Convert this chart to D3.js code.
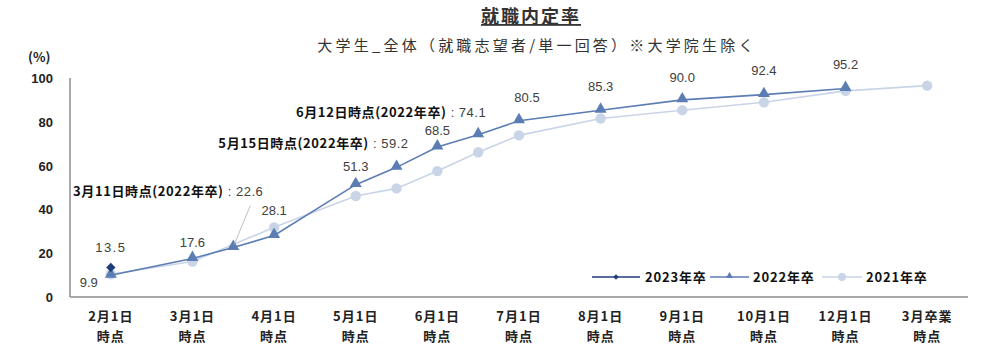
<!DOCTYPE html>
<html><head><meta charset="utf-8">
<script src="https://cdn.jsdelivr.net/npm/d3@7"></script>
<style>
body{margin:0;background:#fff;}
svg{display:block;font-family:"Noto Sans CJK JP","Noto Sans",sans-serif;}
</style></head>
<body><svg id="c" width="1000" height="346"></svg>
<script>
const categories = ["2月1日","3月1日","4月1日","5月1日","6月1日","7月1日","8月1日","9月1日","10月1日","12月1日","3月卒業"];
const categorySub = "時点";
const yTicks = [0,20,40,60,80,100];

const pos2023 = [0];
const values2023 = [13.5];

const pos2022 = [0,1,1.5,2,3,3.5,4,4.5,5,6,7,8,9];
const values2022 = [9.9,17.6,22.6,28.1,51.3,59.2,68.5,74.1,80.5,85.3,90.0,92.4,95.2];

const pos2021 = [0,1,2,3,3.5,4,4.5,5,6,7,8,9,10];
const values2021 = [10.4,16.2,31.8,46.1,49.6,57.5,66.1,73.8,81.5,85.3,88.9,94.1,96.5];

const seriesNames = ["2023年卒","2022年卒","2021年卒"];
const annotations = [
  {pos:1.5, value:22.6, label:"3月11日時点(2022年卒)"},
  {pos:3.5, value:59.2, label:"5月15日時点(2022年卒)"},
  {pos:4.5, value:74.1, label:"6月12日時点(2022年卒)"}
];

const svg = d3.select("#c");
const x = d3.scaleLinear().domain([-0.5,10.5]).range([70,968]);
const y = d3.scaleLinear().domain([0,100]).range([297,78]);

const C23="#1f3d7c", C22="#5b7db3", C21="#c9d5e7";

// title
svg.append("text").attr("x",531).attr("y",23).attr("text-anchor","middle")
  .attr("font-size",18).attr("font-weight","bold").attr("fill","#333").attr("letter-spacing",2)
  .attr("text-decoration","underline").text("就職内定率");
svg.append("text").attr("x",537).attr("y",51).attr("text-anchor","middle")
  .attr("font-size",15).attr("fill","#333").attr("letter-spacing",3.2)
  .text("大学生_全体（就職志望者/単一回答）※大学院生除く");
svg.append("text").attr("x",28).attr("y",62).attr("font-size",13).attr("fill","#222").attr("font-weight","bold").text("(%)");

// axes
svg.append("line").attr("x1",x.range()[0]).attr("x2",x.range()[0]).attr("y1",y(100)).attr("y2",y(0)).attr("stroke","#8c8c8c").attr("stroke-width",1.5);
svg.append("line").attr("x1",x.range()[0]).attr("x2",x.range()[1]).attr("y1",y(0)).attr("y2",y(0)).attr("stroke","#8c8c8c").attr("stroke-width",1.5);
svg.append("g").selectAll("text").data(yTicks).join("text")
  .attr("x",53).attr("y",d=>y(d)+5).attr("text-anchor","end")
  .attr("font-size",13).attr("font-weight","bold").attr("fill","#222")
  .attr("font-family","Liberation Sans, Arial, sans-serif").text(d=>d);
const xl = svg.append("g").selectAll("text").data(categories).join("text")
  .attr("text-anchor","middle").attr("font-size",13).attr("font-weight","bold").attr("fill","#222");
xl.append("tspan").attr("x",(d,i)=>x(i)).attr("y",321).attr("letter-spacing",1).text(d=>d);
xl.append("tspan").attr("x",(d,i)=>x(i)).attr("y",341).attr("letter-spacing",1).text(categorySub);

const line = d3.line().x(d=>x(d[0])).y(d=>y(d[1]));
const d21 = pos2021.map((p,i)=>[p,values2021[i]]);
const d22 = pos2022.map((p,i)=>[p,values2022[i]]);
const d23 = pos2023.map((p,i)=>[p,values2023[i]]);

svg.append("path").attr("d",line(d21)).attr("fill","none").attr("stroke",C21).attr("stroke-width",1.6);
svg.append("g").selectAll("circle").data(d21).join("circle")
  .attr("cx",d=>x(d[0])).attr("cy",d=>y(d[1])).attr("r",5.2).attr("fill",C21);

svg.append("path").attr("d",line(d22)).attr("fill","none").attr("stroke",C22).attr("stroke-width",1.6);
const tri = d3.symbol().type(d3.symbolTriangle).size(62);
svg.append("g").selectAll("path").data(d22).join("path")
  .attr("transform",d=>`translate(${x(d[0])},${y(d[1])-1})`).attr("d",tri).attr("fill",C22);

const dia = d3.symbol().type(d3.symbolSquare).size(44);
svg.append("g").selectAll("path").data(d23).join("path")
  .attr("transform",d=>`translate(${x(d[0])},${y(d[1])}) rotate(45)`).attr("d",dia).attr("fill",C23);

// value labels
const lblFont = "Liberation Sans, Arial, sans-serif";
svg.append("text").attr("x",x(0)).attr("y",y(values2023[0])-15).attr("text-anchor","middle")
  .attr("font-size",13).attr("fill","#404040").attr("font-family",lblFont).attr("letter-spacing",1.5).text(values2023[0].toFixed(1));
const labelIdx = [0,1,3,4,6,8,9,10,11,12];
const labelDy = {0:0,1:-11,3:-20,4:-14,6:-12,8:-19,9:-19,10:-18,11:-20,12:-20};
svg.append("g").selectAll("text").data(labelIdx).join("text")
  .attr("x",i=> i===0 ? x(pos2022[i])-22 : x(pos2022[i]) + (i===8?8:0))
  .attr("y",i=> i===0 ? y(values2022[i])+12 : y(values2022[i])+labelDy[i])
  .attr("text-anchor","middle").attr("font-size",13).attr("fill","#404040").attr("font-family",lblFont)
  .text(i=>values2022[i].toFixed(1));

// annotations
const annOff = [{dx:30,dy:-52},{dx:12,dy:-19},{dx:8,dy:-18}];
annotations.forEach((a,k)=>{
  const t = svg.append("text").attr("x",x(a.pos)+annOff[k].dx).attr("y",y(a.value)+annOff[k].dy)
    .attr("text-anchor","end").attr("font-size",13);
  t.append("tspan").attr("font-weight","bold").attr("fill","#111").attr("letter-spacing",0.6).text(a.label);
  t.append("tspan").attr("fill","#404040").attr("font-family",lblFont).attr("letter-spacing",0.5).text(" : "+a.value.toFixed(1));
});
svg.append("line").attr("x1",x(1.5)+1).attr("y1",y(22.6)-3).attr("x2",x(1.5)+17).attr("y2",y(22.6)-42)
  .attr("stroke","#b0b0b0").attr("stroke-width",0.8);

// legend
const ly = 277;
const lg = svg.append("g");
const items = [
  {x1:592,x2:640,tx:645,color:C23,sym:"dia"},
  {x1:710,x2:749,tx:753,color:C22,sym:"tri"},
  {x1:822,x2:862,tx:866,color:C21,sym:"cir"}
];
items.forEach((it,i)=>{
  lg.append("line").attr("x1",it.x1).attr("x2",it.x2).attr("y1",ly).attr("y2",ly).attr("stroke",it.color).attr("stroke-width",1.4);
  const cx=(it.x1+it.x2)/2;
  if(it.sym==="dia") lg.append("path").attr("transform",`translate(${cx},${ly}) rotate(45)`).attr("d",d3.symbol().type(d3.symbolSquare).size(14)).attr("fill",it.color);
  if(it.sym==="tri") lg.append("path").attr("transform",`translate(${cx},${ly-1})`).attr("d",d3.symbol().type(d3.symbolTriangle).size(22)).attr("fill",it.color);
  if(it.sym==="cir") lg.append("circle").attr("cx",cx).attr("cy",ly).attr("r",4).attr("fill",it.color);
  lg.append("text").attr("x",it.tx).attr("y",ly+5).attr("font-size",13).attr("font-weight","bold").attr("fill","#111").attr("letter-spacing",0.8).text(seriesNames[i]);
});
</script></body></html>
